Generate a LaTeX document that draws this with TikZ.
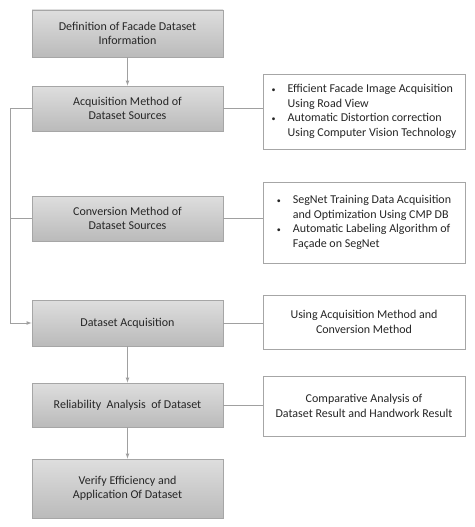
\documentclass[tikz,border=0pt]{standalone}
\usepackage{fontspec}
\setmainfont{Carlito}
\definecolor{boxline}{HTML}{A6A6A6}
\definecolor{linegray}{HTML}{A0A0A0}
\newcommand{\blt}{{\fontsize{8}{8}\selectfont\textbullet}}
\tikzset{
	stepbox/.style={draw=boxline, line width=0.8pt, top color=black!13, bottom color=black!27,
		minimum width=191pt, inner sep=2pt, align=center, text=black!85, font=\fontsize{12}{14.5}\selectfont},
	notebox/.style={draw=boxline, line width=0.8pt, fill=white,
		minimum width=202pt, inner sep=2pt, align=center, text=black!85, font=\fontsize{12}{14.5}\selectfont},
	conn/.style={draw=linegray, line width=0.7pt},
}
\begin{document}
\begin{tikzpicture}[x=1pt, y=-1pt]
			\useasboundingbox (0,0) rectangle (474,527);
			% main steps
			\node[stepbox, minimum height=47pt] (def) at (127.5,33.5) {Definition of Facade Dataset\\Information};
			\node[stepbox, minimum height=45pt] (acq) at (127.5,108.5) {Acquisition Method of\\Dataset Sources};
			\node[stepbox, minimum height=45pt] (conv) at (127.5,218.5) {Conversion Method of\\Dataset Sources};
			\node[stepbox, minimum height=46pt] (dacq) at (127.5,323) {Dataset Acquisition};
			\node[stepbox, minimum height=44pt] (rel) at (127.5,405) {Reliability~ Analysis~ of Dataset};
			\node[stepbox, minimum height=59pt] (ver) at (127.5,488.5) {Verify Efficiency and\\Application Of Dataset};
			% notes
			\node[notebox, minimum height=75pt] (nacq) at (364,111.5) {\begin{tabular}{@{}l@{\hspace{12pt}}l@{}}
				\blt & Efficient Facade Image Acquisition\\
				& Using Road View\\
				\blt & Automatic Distortion correction\\
				& Using Computer Vision Technology
			\end{tabular}};
			\node[notebox, minimum height=81pt] (nconv) at (364,222.5) {\begin{tabular}{@{}l@{\hspace{12pt}}l@{}}
				\blt & SegNet Training Data Acquisition\\
				& and Optimization Using CMP DB\\
				\blt & Automatic Labeling Algorithm of\\
				& Façade on SegNet
			\end{tabular}};
			\node[notebox, minimum height=54pt] (ndacq) at (364,322) {Using Acquisition Method and\\Conversion Method};
			\node[notebox, minimum height=60pt] (nrel) at (364,406) {Comparative Analysis of\\Dataset Result and Handwork Result};
			% flow
			\draw[conn, -latex] (def) -- (acq);
			\draw[conn, -latex] (dacq) -- (rel);
			\draw[conn, -latex] (rel) -- (ver);
			\coordinate (lft) at (10,110);
			\draw[conn, -latex] (acq.west) -- (acq.west -| lft) |- (dacq.west);
			\draw[conn] (conv.west) -- (conv.west -| lft);
			\foreach \a/\b in {acq/nacq, conv/nconv, dacq/ndacq, rel/nrel} \draw[conn] (\a.east) -- (\a.east -| \b.west);
		\end{tikzpicture}
\end{document}
